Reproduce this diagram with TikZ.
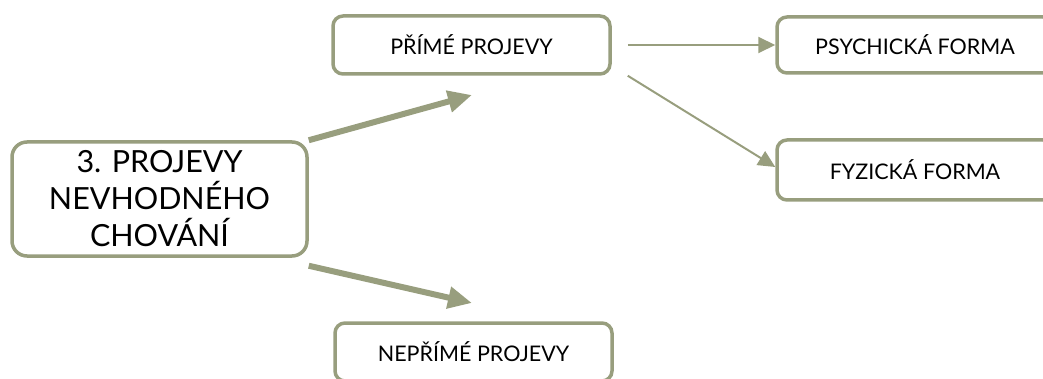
\documentclass[tikz,border=0pt]{standalone}
\usepackage{fontspec}
\setmainfont{Lato}
\usetikzlibrary{arrows.meta}
\definecolor{olive}{RGB}{152,158,126}
\tikzset{
  box/.style={draw=olive, line width=3.5pt, rounded corners=10pt, fill=white,
    inner sep=0pt, align=center, text=black},
  small/.style={box, font=\fontsize{21.5}{25}\selectfont},
  big/.style={box, rounded corners=15pt, font=\fontsize{30.5}{37}\selectfont},
  thick arrow/.style={draw=olive, line width=6pt, -{Triangle[length=24pt,width=21pt]}},
  thin arrow/.style={draw=olive, line width=2pt, -{Triangle[length=17pt,width=16pt]}}
}
\begin{document}
\begin{tikzpicture}[x=1pt,y=-1pt]
\clip (0,0) rectangle (1043,379);
\node[big, minimum width=295pt, minimum height=114pt] (main) at (159.5,199) {3. PROJEVY\\NEVHODNÉHO\\CHOVÁNÍ};
\node[small, minimum width=277pt, minimum height=58pt] (prime) at (471.5,45) {PŘÍMÉ PROJEVY};
\node[small, minimum width=276pt, minimum height=56pt] (psych) at (915,45) {PSYCHICKÁ FORMA};
\node[small, minimum width=276pt, minimum height=60pt] (fyz) at (915,170) {FYZICKÁ FORMA};
\node[small, minimum width=277pt, minimum height=58pt] (nep) at (473.5,352) {NEPŘÍMÉ PROJEVY};
\coordinate (t1) at (472,95);
\coordinate (t2) at (472,303);
\draw[thick arrow] (main.north east) -- (t1);
\draw[thick arrow] ([yshift=-8pt]main.south east) -- (t2);
\draw[thin arrow] ([xshift=16pt]prime.east) -- (psych.west);
\draw[thin arrow] ([xshift=16pt]prime.south east) -- ([yshift=3pt]fyz.west);
\end{tikzpicture}
\end{document}
